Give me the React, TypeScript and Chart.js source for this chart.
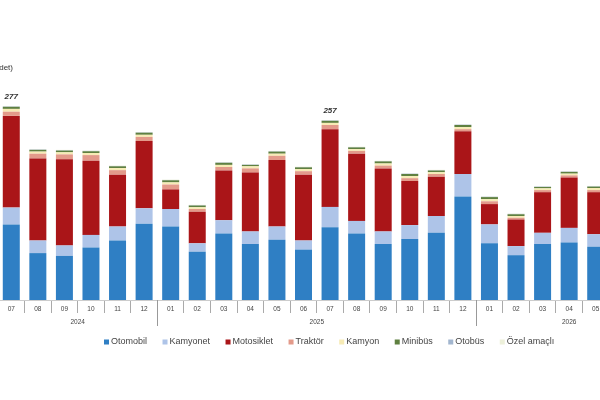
import React, { useEffect, useRef } from 'react';
import { Chart, registerables } from 'chart.js';

Chart.register(...registerables);

const categories = [
	'07', '08', '09', '10', '11', '12',
	'01', '02', '03', '04', '05', '06', '07', '08', '09', '10', '11', '12',
	'01', '02', '03', '04', '05',
];

const yearLabels = ['2024', '2025', '2026'];
const yearStart = [0, 6, 18];
const yearEnd = [5, 17, 24];

const labeledBars = [0, 12];

const otomobil = [108, 67, 63, 75, 85, 109, 105, 69, 95, 80, 86, 72, 104, 95, 80, 87, 96, 148, 81, 64, 80, 82, 76];
const kamyonet = [24, 18, 15, 18, 20, 22, 25, 12, 19, 18, 19, 13, 29, 18, 18, 20, 24, 32, 27, 13, 16, 21, 18];
const motosiklet = [131, 117, 123, 106, 74, 96, 28, 45, 71, 84, 95, 94, 111, 96, 90, 63, 56, 61, 29, 38, 58, 72, 60];
const traktor = [6, 7, 7, 8, 6.5, 6, 7, 4, 5, 6, 6, 5, 6, 4, 4, 4, 4, 3, 4, 2.5, 3, 3, 3];
const kamyon = [4, 3, 3, 3, 3, 3, 3, 2.5, 3, 3, 3, 3, 3, 2.5, 3, 3, 2.5, 3, 3, 2.5, 2.5, 2.5, 3];
const minibus = [3, 2.5, 2.5, 2.5, 2.5, 3, 3, 2.5, 3, 2, 3, 2.5, 3, 2.5, 3, 3, 2.5, 3, 3, 2.5, 2, 2.5, 2];
const otobus = [0.5, 0.5, 0.5, 0.5, 0.5, 0.5, 0.5, 0.5, 0.5, 0.5, 0.5, 0.5, 0.5, 0.5, 0.5, 0.5, 0.5, 0.5, 0.5, 0.5, 0.5, 0.5, 0.5];
const ozelAmacli = [0.5, 0.5, 0.5, 0.5, 0.5, 0.5, 0.5, 0.5, 0.5, 0.5, 0.5, 0.5, 0.5, 0.5, 0.5, 0.5, 0.5, 0.5, 0.5, 0.5, 0.5, 0.5, 0.5];

const FONT = '"Liberation Sans", Arial, sans-serif';

// extra drawing: year row, axis title, totals, legend
const decorPlugin = {
	id: 'decor',
	afterDraw(chart: any) {
		const ctx = chart.ctx;
		const x = chart.scales.x;
		const bottom = chart.chartArea.bottom;
		ctx.save();

		// year separators and labels
		ctx.strokeStyle = '#999';
		ctx.lineWidth = 1;
		ctx.fillStyle = '#444';
		ctx.font = '6.5px ' + FONT;
		ctx.textAlign = 'center';
		ctx.textBaseline = 'middle';
		yearLabels.forEach((label, i) => {
			if (i > 0) {
				const sx = Math.round(x.getPixelForValue(yearStart[i] - 0.5)) + 0.5;
				ctx.beginPath();
				ctx.moveTo(sx, bottom);
				ctx.lineTo(sx, bottom + 26);
				ctx.stroke();
			}
			const cx = (x.getPixelForValue(yearStart[i]) + x.getPixelForValue(yearEnd[i])) / 2;
			ctx.fillText(label, cx, bottom + 22);
		});

		// axis title (cut at the left edge)
		ctx.font = '8px ' + FONT;
		ctx.textAlign = 'right';
		ctx.fillStyle = '#333';
		ctx.fillText('(Bin adet)', 15, 68);

		// totals above selected bars
		ctx.font = 'italic bold 8px ' + FONT;
		ctx.textAlign = 'center';
		ctx.textBaseline = 'bottom';
		const y = chart.scales.y;
		labeledBars.forEach((i) => {
			let sum = 0;
			chart.data.datasets.forEach((ds: any) => { sum += ds.data[i]; });
			ctx.fillText(String(Math.round(sum)), x.getPixelForValue(i), y.getPixelForValue(sum) - 5);
		});

		// legend
		ctx.font = '9px ' + FONT;
		ctx.textAlign = 'left';
		ctx.textBaseline = 'middle';
		let lx = 108;
		const ly = 342;
		chart.data.datasets.forEach((ds: any) => {
			ctx.fillStyle = ds.backgroundColor;
			ctx.fillRect(lx - 2, ly - 2.5, 5, 5);
			ctx.fillStyle = '#444';
			ctx.fillText(ds.label, lx + 5, ly);
			lx += 5 + ctx.measureText(ds.label).width + 17.5;
		});

		ctx.restore();
	},
};

const App: React.FC = () => {
	const chartRef = useRef<HTMLCanvasElement | null>(null);

	useEffect(() => {
		if (!chartRef.current) return;
		const series = [
			{ label: 'Otomobil', data: otomobil, color: '#2F7FC4' },
			{ label: 'Kamyonet', data: kamyonet, color: '#AEC4E8' },
			{ label: 'Motosiklet', data: motosiklet, color: '#AA1518' },
			{ label: 'Traktör', data: traktor, color: '#E39A8A' },
			{ label: 'Kamyon', data: kamyon, color: '#F7EBB5' },
			{ label: 'Minibüs', data: minibus, color: '#5F8040' },
			{ label: 'Otobüs', data: otobus, color: '#A2B6CF' },
			{ label: 'Özel amaçlı', data: ozelAmacli, color: '#EDF0DA' },
		];
		const chart = new Chart(chartRef.current, {
			type: 'bar',
			data: {
				labels: categories,
				datasets: series.map((s) => ({
					label: s.label,
					data: s.data,
					backgroundColor: s.color,
					borderWidth: 0,
					barPercentage: 0.64,
					categoryPercentage: 1,
				})),
			},
			options: {
				animation: false,
				responsive: true,
				maintainAspectRatio: false,
				layout: { padding: { top: 20, left: 0, right: 0, bottom: 0 } },
				plugins: {
					legend: { display: false },
					tooltip: { enabled: false },
				},
				scales: {
					x: {
						stacked: true,
						afterFit: (axis: any) => { axis.height = 100; },
						grid: {
							display: true,
							drawOnChartArea: false,
							drawTicks: true,
							tickLength: 13,
							color: '#aaa',
						},
						border: { display: true, color: '#ccc' },
						ticks: {
							padding: -8,
							font: { size: 6.5, family: FONT },
							color: '#444',
							maxRotation: 0,
							autoSkip: false,
						},
					},
					y: {
						stacked: true,
						display: false,
						min: 0,
						max: 400,
					},
				},
			},
			plugins: [decorPlugin],
		});
		return () => chart.destroy();
	}, []);

	return (
		<div style={{ position: 'fixed', left: 0, top: 0, width: 600, height: 400, overflow: 'hidden', background: '#fff' }}>
			<div style={{ position: 'absolute', left: -2, top: 0, width: 611, height: 400 }}>
				<canvas ref={chartRef} />
			</div>
		</div>
	);
};

export default App;
